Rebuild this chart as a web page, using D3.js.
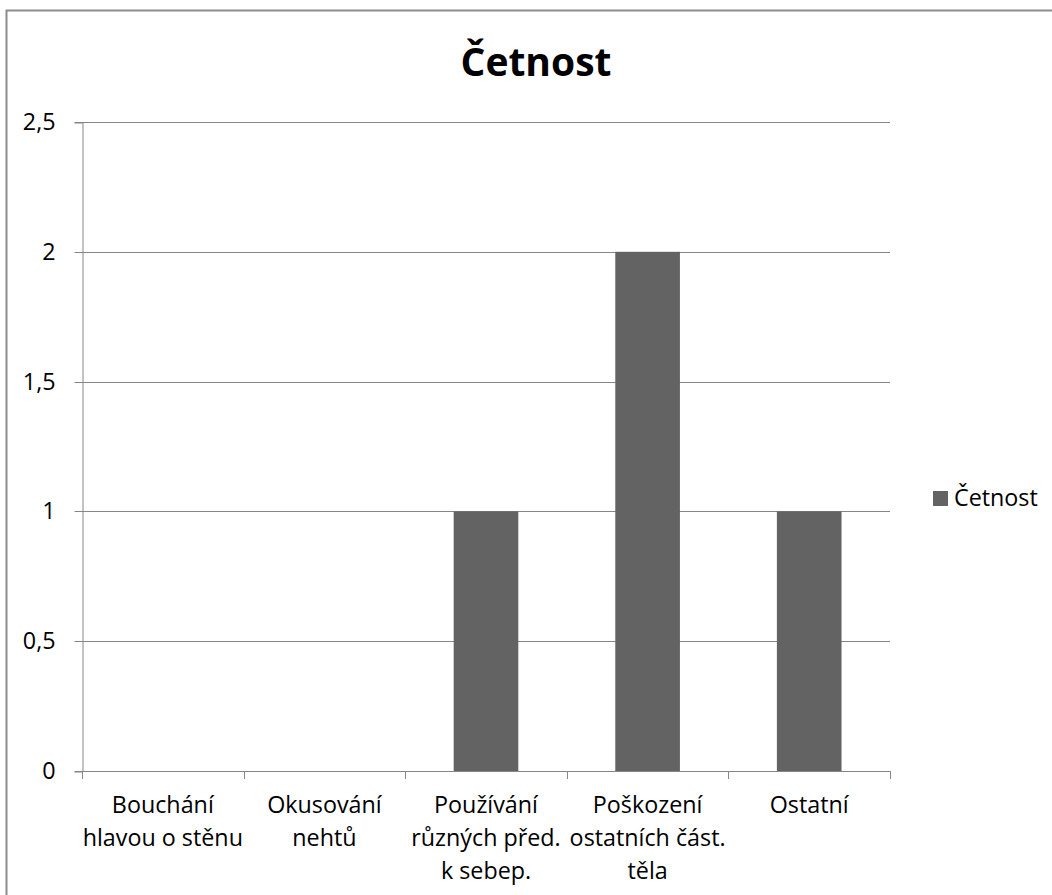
<!DOCTYPE html>
<html>
<head>
<meta charset="utf-8">
<script src="https://cdn.jsdelivr.net/npm/d3@7"></script>
<style>
  html, body { margin: 0; padding: 0; background: #fff; }
  svg { display: block; font-family: "Open Sans", Lato, sans-serif; }
</style>
</head>
<body>
<svg id="chart" width="1052" height="895"></svg>
<script>
// Categories (multi-line labels) and frequency values
const categories = [
  "Bouchání\nhlavou o stěnu",
  "Okusování\nnehtů",
  "Používání\nrůzných před.\nk sebep.",
  "Poškození\nostatních část.\ntěla",
  "Ostatní"
];
const values = [0, 0, 1, 2, 1];
const yTicks = [0, 0.5, 1, 1.5, 2, 2.5];
const seriesName = "Četnost";
const chartTitle = "Četnost";

const svg = d3.select("#chart");
const plot = { left: 82, right: 890, top: 122, bottom: 771 };
const labelSize = 23.3;

// outer chart frame
svg.append("rect")
  .attr("x", 6.5).attr("y", 10.5)
  .attr("width", 1100).attr("height", 1000)
  .attr("fill", "none").attr("stroke", "#8c8c8c").attr("stroke-width", 2);

const x = d3.scaleBand()
  .domain(categories)
  .range([plot.left, plot.right])
  .paddingInner(0.6)
  .paddingOuter(0.3);

const xGrid = d3.scaleBand()
  .domain(categories)
  .range([plot.left, plot.right]);

const y = d3.scaleLinear().domain([0, 2.5]).range([plot.bottom, plot.top]);

const fmt = v => String(v).replace(".", ",");

// horizontal gridlines
svg.append("g").selectAll("line")
  .data(yTicks.filter(t => t > 0))
  .join("line")
  .attr("x1", plot.left).attr("x2", plot.right)
  .attr("y1", d => Math.round(y(d)) + 0.5).attr("y2", d => Math.round(y(d)) + 0.5)
  .attr("stroke", "#868686").attr("stroke-width", 1);

// y axis
const yAxis = d3.axisLeft(y).tickValues(yTicks).tickFormat(fmt).tickSize(8).tickPadding(19);
const gy = svg.append("g").attr("transform", `translate(${plot.left + 0.5},0.5)`).call(yAxis);
gy.attr("font-family", null).attr("font-size", null);
gy.select(".domain").attr("stroke", "#868686");
gy.selectAll(".tick line").attr("stroke", "#868686");
gy.selectAll(".tick text").attr("font-size", labelSize).attr("fill", "#000");
gy.selectAll(".tick").attr("transform", d => `translate(0,${Math.round(y(d))})`);

// bars
svg.append("g").selectAll("rect")
  .data(values.map((v, i) => ({ c: categories[i], v })))
  .join("rect")
  .attr("x", d => x(d.c))
  .attr("width", x.bandwidth())
  .attr("y", d => y(d.v))
  .attr("height", d => y(0) - y(d.v))
  .attr("fill", "#636363");

// x axis with ticks at category boundaries
const gx = svg.append("g");
gx.append("line")
  .attr("x1", plot.left).attr("x2", plot.right)
  .attr("y1", plot.bottom + 0.5).attr("y2", plot.bottom + 0.5)
  .attr("stroke", "#868686");
const bounds = categories.map(c => xGrid(c)).concat([plot.right]);
gx.selectAll("line.tk").data(bounds).join("line").attr("class", "tk")
  .attr("x1", d => Math.round(d) + 0.5).attr("x2", d => Math.round(d) + 0.5)
  .attr("y1", plot.bottom).attr("y2", plot.bottom + 8)
  .attr("stroke", "#868686");

// category labels
const lbl = svg.append("g").selectAll("text")
  .data(categories)
  .join("text")
  .attr("text-anchor", "middle")
  .attr("font-size", labelSize)
  .attr("fill", "#000")
  .attr("transform", d => `translate(${xGrid(d) + xGrid.bandwidth() / 2},813)`);
lbl.selectAll("tspan")
  .data(d => d.split("\n"))
  .join("tspan")
  .attr("x", 0)
  .attr("y", (d, i) => i * 33)
  .text(d => d);

// title
svg.append("text")
  .attr("x", 536).attr("y", 76)
  .attr("text-anchor", "middle")
  .attr("font-size", 39).attr("font-weight", "bold")
  .attr("fill", "#000")
  .text(chartTitle);

// legend
const lg = svg.append("g").attr("transform", "translate(933,491)");
lg.append("rect").attr("width", 15).attr("height", 15).attr("fill", "#636363");
lg.append("text").attr("x", 21).attr("y", 15)
  .attr("font-size", labelSize).attr("fill", "#000").text(seriesName);
</script>
</body>
</html>
